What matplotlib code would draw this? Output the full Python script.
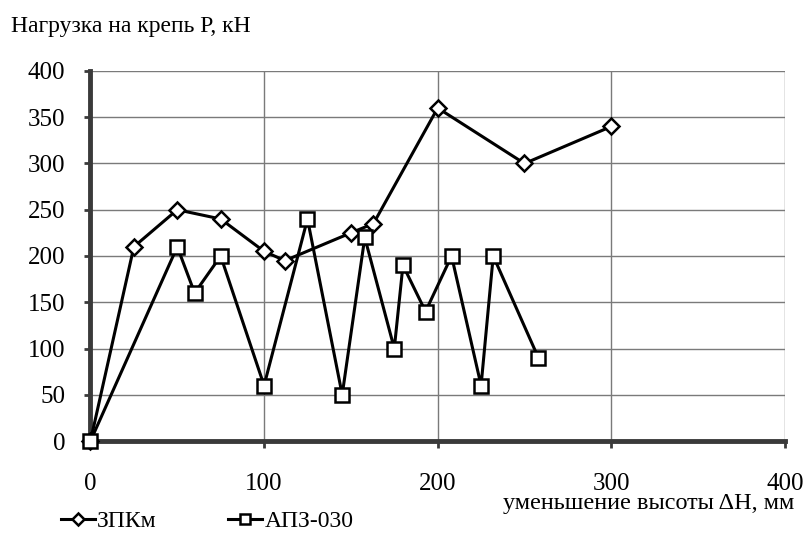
import matplotlib.pyplot as plt

plt.rcParams['font.family'] = ['Liberation Serif', 'DejaVu Serif']

# ЗПКм
x_zpk = [0, 25, 50, 75, 100, 112, 150, 163, 200, 250, 300]
y_zpk = [0, 210, 250, 240, 205, 195, 225, 235, 360, 300, 340]
# АПЗ-030
x_apz = [0, 50, 60, 75, 100, 125, 145, 158, 175, 180, 193, 208, 225, 232, 258]
y_apz = [0, 210, 160, 200, 60, 240, 50, 220, 100, 190, 140, 200, 60, 200, 90]

xticks = [0, 100, 200, 300, 400]
yticks = [0, 50, 100, 150, 200, 250, 300, 350, 400]

fig = plt.figure(figsize=(8.1, 5.39), dpi=100)
ax = fig.add_axes([0.1117, 0.1818, 0.8573, 0.6865])

ax.plot(x_zpk, y_zpk, color='black', lw=2.2, marker='D', ms=8.5,
        mfc='white', mec='black', mew=1.8, label='ЗПКм', zorder=5, clip_on=False)
ax.plot(x_apz, y_apz, color='black', lw=2.2, marker='s', ms=9.5,
        mfc='white', mec='black', mew=1.8, label='АПЗ-030', zorder=6, clip_on=False)

ax.set_xlim(0, 400)
ax.set_ylim(0, 400)
ax.set_xticks(xticks)
ax.set_yticks(yticks)
ax.grid(True, color='#7a7a7a', lw=1.0)
ax.set_axisbelow(True)

for side in ['top', 'right']:
    ax.spines[side].set_visible(False)
for side in ['left', 'bottom']:
    ax.spines[side].set_color('#3a3a3a')
    ax.spines[side].set_linewidth(3.5)
    ax.spines[side].set_zorder(4)

ax.tick_params(axis='x', direction='out', length=5, width=2, color='#3a3a3a',
               labelsize=18, pad=18)
ax.tick_params(axis='y', direction='out', length=4, width=2, color='#3a3a3a',
               labelsize=18, pad=14)

fig.text(0.014, 0.95, 'Нагрузка на крепь Р, кН', fontsize=17, ha='left', va='center')
fig.text(0.981, 0.066, 'уменьшение высоты ΔH, мм', fontsize=17.5, ha='right', va='center')

ax.legend(loc='center left', bbox_to_anchor=(-0.043, -0.218), ncol=2, frameon=False,
          fontsize=17, handlelength=1.45, columnspacing=3.0, handletextpad=0.1,
          markerscale=0.75, borderaxespad=0, borderpad=0)

fig.savefig('out.png', dpi=100)
